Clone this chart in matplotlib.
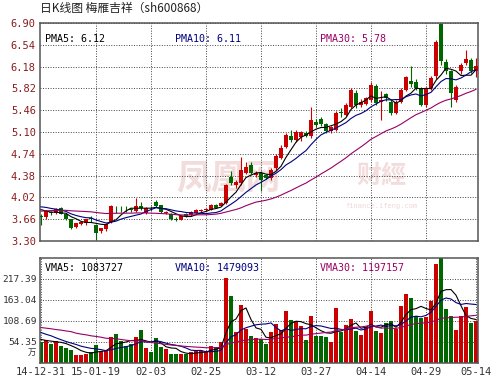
import numpy as np
import pandas as pd
import matplotlib
matplotlib.use("Agg")
import matplotlib.pyplot as plt

plt.rcParams['font.family'] = ['DejaVu Sans Mono', 'Noto Sans CJK SC']

title = "日K线图 梅雁吉祥（sh600868）"

# date labels and the bar index they sit on
date_labels = ["14-12-31", "15-01-19", "02-03", "02-25", "03-12", "03-27", "04-14", "04-29", "05-14"]
date_pos = [0, 11, 22, 33, 44, 55, 66, 77, 87]

# daily candles, 14-12-31 .. 15-05-14
opens = [3.72, 3.70, 3.78, 3.77, 3.85, 3.75, 3.66, 3.53, 3.58, 3.59,
         3.68, 3.56, 3.46, 3.49, 3.62, 3.85, 3.85, 3.85, 3.82, 3.80,
         3.87, 3.76, 3.85, 3.95, 3.89, 3.76, 3.75, 3.67, 3.65, 3.74,
         3.73, 3.77, 3.79, 3.81, 3.82, 3.89, 3.88, 3.92, 4.36, 4.22,
         4.25, 4.42, 4.56, 4.39, 4.42, 4.39, 4.34, 4.50, 4.67, 4.86,
         5.03, 4.96, 5.02, 5.09, 5.03, 5.27, 5.31, 5.23, 5.11, 5.13,
         5.43, 5.38, 5.52, 5.75, 5.55, 5.57, 5.63, 5.86, 5.60, 5.72,
         5.60, 5.42, 5.60, 5.79, 5.95, 5.93, 5.82, 5.55, 5.82, 6.02,
         6.88, 6.26, 6.10, 5.63, 6.10, 6.24, 6.29, 6.10]
highs = [3.75, 3.82, 3.80, 3.85, 3.86, 3.77, 3.67, 3.60, 3.62, 3.67,
         3.71, 3.58, 3.52, 3.59, 3.90, 3.88, 3.88, 3.88, 3.85, 4.01,
         3.95, 3.86, 3.88, 3.98, 3.90, 3.80, 3.76, 3.69, 3.72, 3.76,
         3.80, 3.83, 3.83, 3.84, 3.91, 3.91, 3.95, 4.24, 4.45, 4.30,
         4.69, 4.60, 4.60, 4.46, 4.45, 4.41, 4.50, 4.74, 4.88, 5.08,
         5.13, 5.14, 5.12, 5.12, 5.52, 5.32, 5.34, 5.25, 5.20, 5.45,
         5.49, 5.58, 5.82, 5.80, 5.64, 5.68, 5.93, 5.90, 5.77, 5.75,
         5.63, 5.63, 5.82, 6.03, 6.19, 5.97, 5.85, 5.85, 6.02, 6.62,
         6.90, 6.30, 6.12, 5.88, 6.24, 6.45, 6.32, 6.32]
lows = [3.56, 3.66, 3.73, 3.75, 3.74, 3.64, 3.50, 3.51, 3.56, 3.57,
        3.62, 3.32, 3.44, 3.47, 3.60, 3.77, 3.78, 3.78, 3.78, 3.78,
        3.82, 3.74, 3.80, 3.86, 3.76, 3.74, 3.65, 3.63, 3.64, 3.70,
        3.71, 3.76, 3.78, 3.79, 3.81, 3.84, 3.87, 3.91, 4.22, 4.18,
        4.22, 4.40, 4.40, 4.36, 4.12, 4.32, 4.30, 4.48, 4.65, 4.84,
        4.94, 4.93, 4.95, 5.02, 5.00, 5.18, 5.20, 5.09, 5.08, 5.12,
        5.35, 5.36, 5.50, 5.50, 5.52, 5.55, 5.60, 5.55, 5.30, 5.62,
        5.38, 5.40, 5.58, 5.77, 5.85, 5.80, 5.53, 5.52, 5.80, 5.98,
        6.20, 6.05, 5.52, 5.60, 6.05, 6.20, 6.08, 6.01]
closes = [3.69, 3.79, 3.76, 3.83, 3.75, 3.66, 3.51, 3.59, 3.61, 3.66,
          3.66, 3.44, 3.51, 3.58, 3.88, 3.84, 3.84, 3.84, 3.81, 3.87,
          3.85, 3.84, 3.84, 3.88, 3.78, 3.78, 3.66, 3.65, 3.71, 3.72,
          3.78, 3.81, 3.81, 3.82, 3.89, 3.85, 3.93, 4.22, 4.25, 4.28,
          4.47, 4.52, 4.42, 4.43, 4.31, 4.34, 4.48, 4.70, 4.84, 5.05,
          4.97, 5.10, 5.10, 5.04, 5.29, 5.21, 5.23, 5.11, 5.18, 5.42,
          5.42, 5.55, 5.79, 5.55, 5.60, 5.66, 5.88, 5.58, 5.63, 5.66,
          5.41, 5.60, 5.79, 6.01, 5.90, 5.82, 5.55, 5.82, 5.99, 6.58,
          6.27, 6.10, 5.74, 5.84, 6.21, 6.30, 6.10, 6.19]
# volume, 万
volumes = [54, 59, 49, 56, 44, 38, 33, 20, 20, 22,
           27, 46, 29, 29, 66, 74, 55, 43, 48, 67,
           85, 38, 27, 64, 41, 35, 22, 22, 22, 21,
           28, 30, 30, 27, 44, 41, 53, 220, 172, 80,
           150, 87, 70, 63, 61, 47, 79, 100, 85, 134,
           110, 108, 94, 59, 120, 70, 70, 67, 53, 141,
           79, 98, 114, 82, 72, 93, 134, 82, 78, 103,
           108, 87, 147, 178, 168, 120, 117, 119, 159, 257,
           271.735, 140, 121, 85, 120, 144, 103, 107]

# sessions before the window, only used to start the moving averages
hist_close = [3.62, 3.65, 3.70, 3.68, 3.72, 3.75, 3.71, 3.74, 3.78, 3.80,
              3.76, 3.79, 3.82, 3.78, 3.81, 3.80, 3.84, 3.79, 3.77, 3.83,
              3.88, 3.93, 3.95, 3.90, 3.89, 3.90, 3.86, 3.82, 3.82]
hist_vol = [110, 95, 120, 88, 102, 85, 140, 92, 78, 105,
            96, 88, 112, 84, 90, 118, 95, 86, 80, 86,
            105, 88, 110, 92, 85, 72, 58, 64, 52]

price_legend = ["PMA5: 6.12", "PMA10: 6.11", "PMA30: 5.78"]
vol_legend = ["VMA5: 1083727", "VMA10: 1479093", "VMA30: 1197157"]
ma_colors = ["#000000", "#000080", "#990066"]

n = len(closes)
x = np.arange(n)
o = np.array(opens)
c = np.array(closes)
cols = np.where(c >= o, "#cc0000", "#006600")

pc = pd.Series(hist_close + closes)
pv = pd.Series(hist_vol + volumes)
pma = [pc.rolling(k).mean().to_numpy()[-n:] for k in (5, 10, 30)]
vma = [pv.rolling(k).mean().to_numpy()[-n:] for k in (5, 10, 30)]

fig = plt.figure(figsize=(4.96, 3.84), dpi=100, facecolor="white")
ax = fig.add_axes([40 / 496, 1 - 241 / 384, 438 / 496, 218 / 384])
ax2 = fig.add_axes([40 / 496, 1 - 362.5 / 384, 438 / 496, 104.5 / 384])

fig.text(40 / 496, 1 - 8 / 384, title, fontsize=8.5, color="#222222",
         family=["Noto Sans CJK SC"], va="center", ha="left")

grid_kw = dict(color="#444444", linestyle=(0, (1, 1.6)), linewidth=0.7)
for a in (ax, ax2):
    a.set_xlim(-0.2, 87.4)
    a.set_xticks(date_pos[1:-1])
    a.grid(True, **grid_kw)
    a.set_axisbelow(True)
    a.tick_params(length=0, pad=3)
    for s in a.spines.values():
        s.set_color("#555555")
        s.set_linewidth(1.1)

# watermark
ax.text(0.43, 0.29, "凤凰网", transform=ax.transAxes, fontsize=25, color="#f3dcdc",
        family=["Noto Sans CJK SC"], ha="center", va="center", zorder=0, fontweight="bold")
ax.text(0.78, 0.30, "财經", transform=ax.transAxes, fontsize=18, color="#f3dcdc",
        family=["Noto Sans CJK SC"], ha="center", va="center", zorder=0, fontweight="bold")
ax.text(0.78, 0.16, "finance.ifeng.com", transform=ax.transAxes, fontsize=5, color="#f0d8d8",
        ha="center", va="center", zorder=0)

# candles
ax.vlines(x, lows, highs, colors=cols, linewidth=0.8, zorder=2)
ax.bar(x, np.maximum(np.abs(c - o), 0.012), bottom=np.minimum(o, c), width=0.7,
       color=cols, linewidth=0, zorder=3)
for m, col in zip(pma, ma_colors):
    ax.plot(x, m, color=col, linewidth=0.8, zorder=4)

pticks = np.linspace(3.30, 6.90, 11)
ax.set_ylim(3.30, 6.90)
ax.set_yticks(pticks)
ax.set_yticklabels([f"{v:.2f}" for v in pticks], fontsize=7.5, color="#8b1c1c")
ax.set_xticklabels([])

for txt, col, xp in zip(price_legend, ma_colors, [0.012, 0.308, 0.639]):
    ax.text(xp, 0.925, txt, transform=ax.transAxes, fontsize=7.2, color=col,
            ha="left", va="center", zorder=5)

# volume
vmax = max(volumes)
ax2.bar(x, volumes, width=0.7, color=cols, linewidth=0, zorder=2)
for m, col in zip(vma, ma_colors):
    ax2.plot(x, m, color=col, linewidth=0.8, zorder=3)
vticks = vmax * np.arange(1, 5) / 5
ax2.set_ylim(0, vmax)
ax2.set_yticks(vticks)
ax2.set_yticklabels([f"{v:.2f}" for v in vticks], fontsize=6.8, color="#333333")
ax2.tick_params(axis="y", pad=2)
ax2.text(-0.008, 0.1, "万", transform=ax2.transAxes, fontsize=6, color="#333333",
         family=["Noto Sans CJK SC"], ha="right", va="center")
ax2.set_xticks(date_pos)
ax2.set_xticklabels(date_labels, fontsize=7.5, color="#333333")
ax2.grid(True, **grid_kw)

for txt, col, xp in zip(vol_legend, ma_colors, [0.012, 0.308, 0.639]):
    ax2.text(xp, 0.9, txt, transform=ax2.transAxes, fontsize=7.2, color=col,
             ha="left", va="center", zorder=5)

fig.savefig("out.png", dpi=100, facecolor="white")
